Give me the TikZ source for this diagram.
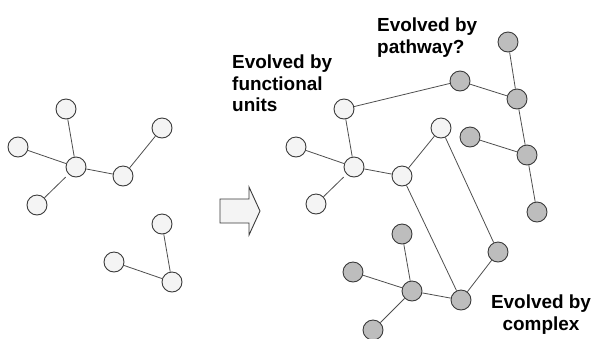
\documentclass[tikz,border=0pt]{standalone}
\usepackage{fontspec}
\setmainfont{Liberation Sans}
\usepackage{tikz}
\definecolor{rim}{HTML}{3A3A3A}
\definecolor{paleFill}{HTML}{F4F4F4}
\definecolor{greyFill}{HTML}{BDBDBD}
\tikzstyle{link} = [draw=rim!90, line width=0.8bp]
\tikzstyle{vtx} = [draw=rim, line width=0.9bp, circle, minimum size=20bp, inner sep=0pt, fill=paleFill]
\tikzstyle{gvtx} = [vtx, fill=greyFill]
\tikzstyle{caption} = [font=\bfseries\fontsize{19}{21.5}\selectfont, inner sep=0pt]

\begin{document}
\begin{tikzpicture}[x=1bp,y=-1bp]
        \useasboundingbox (0,0) rectangle (594,338);

        % before
        \node[vtx] at (66,109) (a) {};
        \node[vtx] at (18,147) (b) {};
        \node[vtx] at (76,167) (c) {};
        \node[vtx] at (37,205) (d) {};
        \node[vtx] at (123,176) (e) {};
        \node[vtx] at (162,128) (f) {};
        \node[vtx] at (162,224) (g) {};
        \node[vtx] at (114,262) (h) {};
        \node[vtx] at (172,282) (i) {};

        \draw[link] (a) -- (c);
        \draw[link] (b) -- (c);
        \draw[link, shorten >=4bp] (d) -- (c);
        \draw[link] (c) -- (e);
        \draw[link] (e) -- (f);
        \draw[link] (g) -- (i);
        \draw[link] (h) -- (i);

        % arrow
        \filldraw[draw=rim, line width=0.9bp, fill=paleFill]
            (220,199) -- (249,199) -- (249,187) -- (260,211) -- (249,235) -- (249,223) -- (220,223) -- cycle;

        % after: functional units
        \node[vtx] at (344,109) (w1) {};
        \node[vtx] at (296,147) (w2) {};
        \node[vtx] at (354,167) (w3) {};
        \node[vtx] at (316,204) (w4) {};
        \node[vtx] at (402,176) (w5) {};
        \node[vtx] at (441,128) (w6) {};

        % pathway
        \node[gvtx] at (508,42) (p1) {};
        \node[gvtx] at (460,81) (p2) {};
        \node[gvtx] at (517,99) (p3) {};
        \node[gvtx] at (470,137) (p4) {};
        \node[gvtx] at (527,155) (p5) {};
        \node[gvtx] at (537,212) (p6) {};

        % complex
        \node[gvtx] at (402,234) (k1) {};
        \node[gvtx] at (353,272) (k2) {};
        \node[gvtx] at (412,291) (k3) {};
        \node[gvtx] at (461,300) (k4) {};
        \node[gvtx] at (498,252) (k5) {};
        \node[gvtx] at (373,330) (k6) {};

        \draw[link] (w1) -- (w3);
        \draw[link] (w2) -- (w3);
        \draw[link, shorten >=4bp] (w4) -- (w3);
        \draw[link] (w3) -- (w5);
        \draw[link] (w5) -- (w6);
        \draw[link] (w1) -- (p2);
        \draw[link] (p2) -- (p3);
        \draw[link] (p1) -- (p3);
        \draw[link] (p3) -- (p5);
        \draw[link] (p4) -- (p5);
        \draw[link] (p5) -- (p6);
        \draw[link] (w6) -- (k5);
        \draw[link] (w5) -- (k4);
        \draw[link] (k1) -- (k3);
        \draw[link] (k2) -- (k3);
        \draw[link] (k3) -- (k4);
        \draw[link] (k4) -- (k5);
        \draw[link] (k3) -- (k6);

        \node[caption, anchor=north west, align=left] at (232,55) (unitsLbl) {Evolved by\\functional\\units};
        \node[caption, anchor=north west, align=left] at (377,18) (pathLbl) {Evolved by\\pathway?};
        \node[caption, anchor=north, align=center] at (541,295) (cplxLbl) {Evolved by\\complex};

    \end{tikzpicture}
\end{document}
